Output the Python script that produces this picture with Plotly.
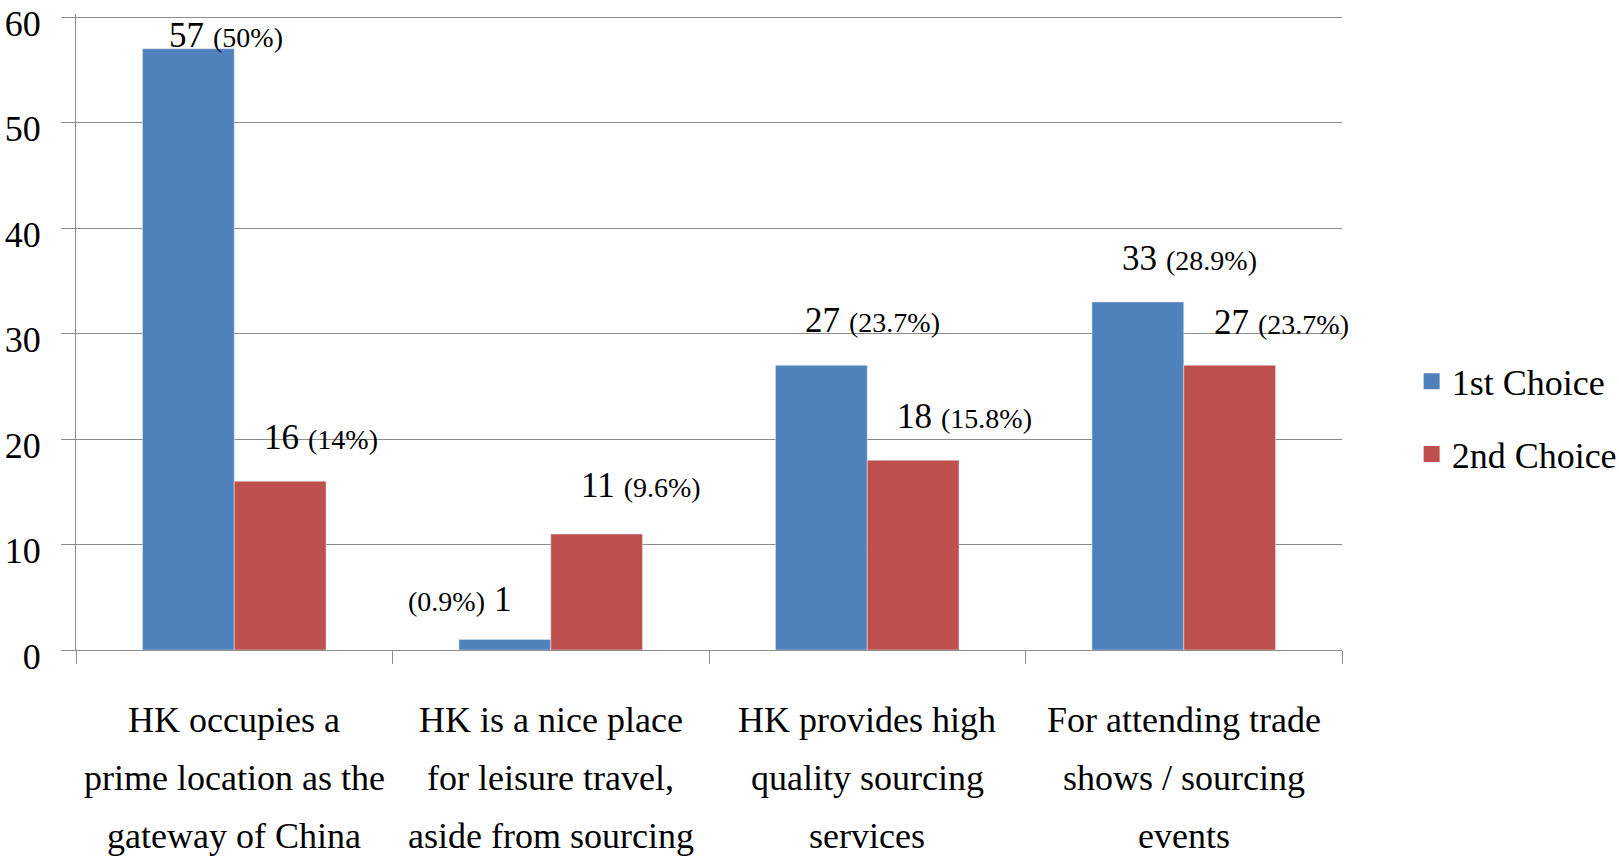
import plotly.graph_objects as go

category_lines = [
    ["HK occupies a", "prime location as the", "gateway of China"],
    ["HK is a nice place", "for leisure travel,", "aside from sourcing"],
    ["HK provides high", "quality sourcing", "services"],
    ["For attending trade", "shows / sourcing", "events"],
]
first_choice = [57, 1, 27, 33]
second_choice = [16, 11, 18, 27]
first_pct = ["50%", "0.9%", "23.7%", "28.9%"]
second_pct = ["14%", "9.6%", "15.8%", "23.7%"]
y_ticks = [0, 10, 20, 30, 40, 50, 60]
series_names = ["1st Choice", "2nd Choice"]

BLUE = "#4F81BD"
RED = "#C0504D"
GRID = "#8C8C8C"
FONT = "Liberation Serif"
BAR_W = 0.29
n_cat = len(category_lines)
xs = list(range(n_cat))

fig = go.Figure()
fig.add_trace(go.Bar(name=series_names[0], x=xs, y=first_choice, marker_color=BLUE,
                     width=BAR_W, offset=-BAR_W, showlegend=False))
fig.add_trace(go.Bar(name=series_names[1], x=xs, y=second_choice, marker_color=RED,
                     width=BAR_W, offset=0, showlegend=False))
# legend entries with larger square swatches
for name, col, grp in [(series_names[0], BLUE, "a"), (series_names[1], RED, "b")]:
    fig.add_trace(go.Scatter(name=name, x=[None], y=[None], mode="markers",
                             marker=dict(symbol="square", size=25, color=col),
                             legendgroup=grp, showlegend=True, hoverinfo="skip"))


def label(num, pct, pct_first=False):
    n = f"<span style='font-size:35px'>{num}</span>"
    p = f"<span style='font-size:28px'>({pct})</span>"
    return f"{p} {n}" if pct_first else f"{n} {p}"


# label placement styles (pixel offsets relative to bar centre / top)
first_dy = [14, 40, 45, 44]
second_dy = [44, 49, 44, 43]
annotations = []
for i in range(n_cat):
    if i == 1:
        annotations.append(dict(x=i - BAR_W / 2, y=first_choice[i], xref="x", yref="y",
                                text=label(first_choice[i], first_pct[i], True),
                                showarrow=False, xanchor="right", yanchor="middle",
                                xshift=8, yshift=first_dy[i]))
    else:
        annotations.append(dict(x=i - BAR_W / 2, y=first_choice[i], xref="x", yref="y",
                                text=label(first_choice[i], first_pct[i]),
                                showarrow=False, xanchor="left", yanchor="middle",
                                xshift=-21 if i == 0 else -18, yshift=first_dy[i]))
    annotations.append(dict(x=i + BAR_W / 2, y=second_choice[i], xref="x", yref="y",
                            text=label(second_choice[i], second_pct[i]),
                            showarrow=False, xanchor="left", yanchor="middle",
                            xshift=-18, yshift=second_dy[i]))

# category labels, one line per annotation to match the original line spacing
for i, lines in enumerate(category_lines):
    for k, line in enumerate(lines):
        annotations.append(dict(x=i, y=0, xref="x", yref="paper", text=line,
                                showarrow=False, xanchor="center", yanchor="middle",
                                yshift=-(70 + 58 * k),
                                font=dict(family=FONT, size=36, color="black")))

fig.update_layout(
    width=1619, height=858,
    margin=dict(l=76, r=277, t=13.5, b=208, autoexpand=False),
    paper_bgcolor="white", plot_bgcolor="white",
    font=dict(family=FONT, color="black", size=36),
    barmode="group",
    showlegend=True,
    legend=dict(x=1.055, xanchor="left", y=0.365, yanchor="middle",
                font=dict(family=FONT, size=36, color="black"),
                tracegroupgap=23, itemsizing="trace", bgcolor="rgba(0,0,0,0)"),
    annotations=annotations,
    xaxis=dict(
        tickmode="array", tickvals=xs, ticktext=[""] * n_cat,
        range=[-0.5, n_cat - 0.5], automargin=False,
        showline=True, linecolor=GRID, linewidth=1,
        ticks="", showgrid=False, zeroline=False, showticklabels=False,
        minor=dict(tickmode="array", tickvals=[i - 0.5 for i in range(n_cat + 1)],
                   ticks="outside", ticklen=13, tickcolor=GRID, tickwidth=1, showgrid=False),
    ),
    yaxis=dict(
        range=[0, 60.3], tickmode="array", tickvals=y_ticks, automargin=False,
        showgrid=True, gridcolor=GRID, gridwidth=1,
        showline=True, linecolor=GRID, linewidth=1,
        ticks="outside", ticklen=14, tickcolor=GRID, tickwidth=1,
        zeroline=False,
        tickfont=dict(family=FONT, size=36, color="black"),
        ticklabelstandoff=13, ticklabelshift=6, ticklabeloverflow="allow",
    ),
)

fig.write_html("out.html", config={"displayModeBar": False},
               post_script="document.body.style.margin='0';document.body.style.overflow='hidden';")
